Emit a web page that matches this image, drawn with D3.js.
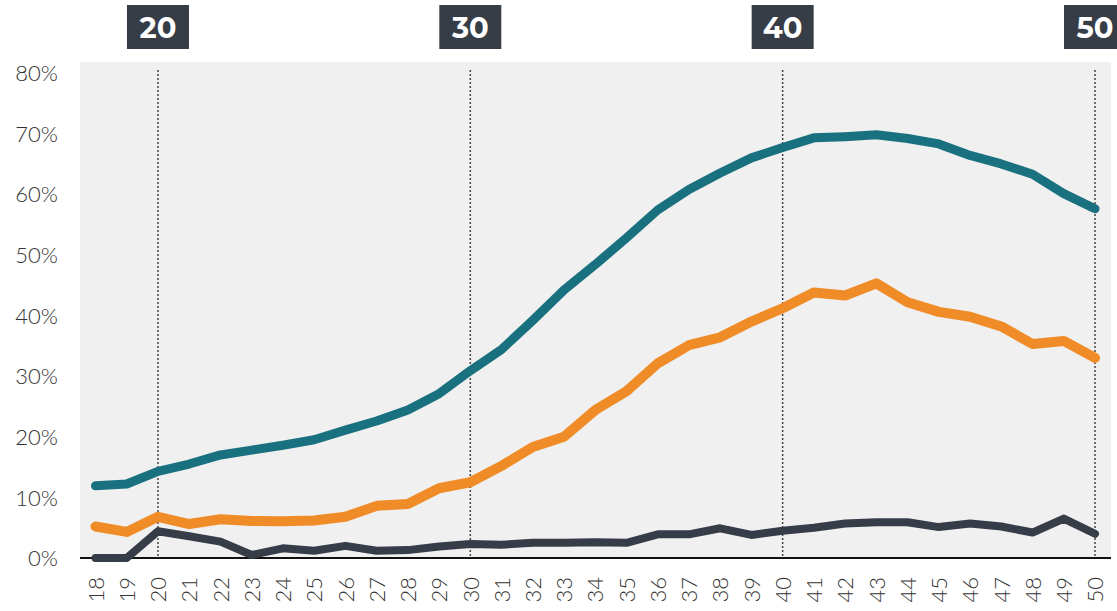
<!DOCTYPE html>
<html><head><meta charset="utf-8">
<script src="https://cdn.jsdelivr.net/npm/d3@7"></script>
<style>body{margin:0;background:#fff;}svg{display:block;}</style>
</head><body>
<svg id="c" width="1117" height="611"></svg>
<script>
const ages = [18,19,20,21,22,23,24,25,26,27,28,29,30,31,32,33,34,35,36,37,38,39,40,41,42,43,44,45,46,47,48,49,50];
const tealSeries = [11.9,12.2,14.3,15.5,17.0,17.8,18.6,19.5,21.1,22.6,24.4,27.1,30.9,34.4,39.2,44.2,48.4,52.8,57.4,60.8,63.5,66.0,67.7,69.3,69.5,69.8,69.2,68.3,66.4,65.0,63.3,60.1,57.6];
const orangeSeries = [5.2,4.3,6.8,5.6,6.4,6.1,6.05,6.2,6.8,8.6,8.9,11.5,12.5,15.2,18.3,20.0,24.4,27.5,32.1,35.1,36.4,39.0,41.2,43.8,43.3,45.3,42.2,40.6,39.8,38.2,35.3,35.8,33.0];
const darkSeries = [0,0,4.4,3.6,2.7,0.5,1.6,1.2,2.0,1.2,1.3,1.9,2.3,2.2,2.5,2.5,2.6,2.5,3.9,3.9,4.9,3.8,4.5,5.0,5.7,5.9,5.9,5.1,5.7,5.2,4.2,6.5,4.0];
const yTicks = [0,10,20,30,40,50,60,70,80];
const decades = [20,30,40,50];

const svg = d3.select("#c");
const x = d3.scaleLinear().domain([18,50]).range([95.5,1095]);
const y = d3.scaleLinear().domain([0,80]).range([558,73]);

// plot background
svg.append("rect").attr("x",80).attr("y",62).attr("width",1031).attr("height",y(0)-62).attr("fill","#f0f0f0");

// dotted decade lines
svg.selectAll(".dec").data(decades).enter().append("line")
  .attr("x1",d=>x(d)).attr("x2",d=>x(d)).attr("y1",70).attr("y2",y(0))
  .attr("stroke","#444").attr("stroke-width",1.5).attr("stroke-dasharray","2,2");

// decade boxes
const boxes = svg.selectAll(".box").data(decades).enter().append("g");
boxes.append("rect").attr("x",d=>x(d)-31).attr("y",5).attr("width",62).attr("height",44).attr("fill","#363d47");
boxes.append("text").attr("x",d=>x(d)).attr("y",38).attr("text-anchor","middle")
  .attr("fill","#fff").attr("font-family","Montserrat, 'DejaVu Sans', sans-serif").attr("font-weight","bold").attr("font-size",29)
  .text(d=>d);

// y axis labels
const yAxis = d3.axisLeft(y).tickValues(yTicks).tickSize(0).tickPadding(0).tickFormat(d=>d+"%");
const gy = svg.append("g").attr("transform","translate(58,0)").call(yAxis);
gy.select(".domain").remove();
gy.selectAll("text").attr("font-family","'Century Gothic', Lato, sans-serif").attr("font-weight",300).attr("font-size",22).attr("fill","#333").attr("dy","0.35em");

// x axis labels
const xAxis = d3.axisBottom(x).tickValues(ages).tickSize(0).tickPadding(0).tickFormat(d=>d);
const gx = svg.append("g").attr("transform","translate(0,577)").call(xAxis);
gx.select(".domain").remove();
gx.selectAll("text").attr("font-family","'Century Gothic', Lato, sans-serif").attr("font-weight",300).attr("font-size",22).attr("fill","#333")
  .attr("transform","rotate(-90)").attr("text-anchor","end").attr("x",0).attr("y",0).attr("dx",0).attr("dy","0.35em");

// baseline
svg.append("line").attr("x1",80).attr("x2",1111).attr("y1",y(0)).attr("y2",y(0)).attr("stroke","#111").attr("stroke-width",2);

const line = d3.line().x((d,i)=>x(ages[i])).y(d=>y(d));
const series = [
  {vals:darkSeries,color:"#363c48",w:8},
  {vals:orangeSeries,color:"#f08c28",w:10},
  {vals:tealSeries,color:"#19707f",w:9}
];
svg.selectAll(".ln").data(series).enter().append("path")
  .attr("d",d=>line(d.vals)).attr("fill","none").attr("stroke",d=>d.color).attr("stroke-width",d=>d.w)
  .attr("stroke-linejoin","round").attr("stroke-linecap","round");
</script>
</body></html>
